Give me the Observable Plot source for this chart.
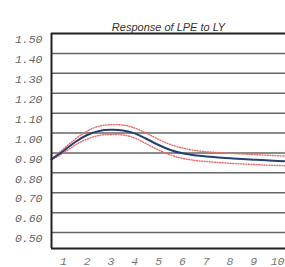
<!DOCTYPE html>
<html><head><meta charset="utf-8">
<script src="https://cdn.jsdelivr.net/npm/d3@7"></script>
<script src="https://cdn.jsdelivr.net/npm/@observablehq/plot@0.6"></script>
<style>body{margin:0;background:#fff;} svg{display:block;}</style>
</head><body><div id="chart"></div>
<script>
const title = "Response of LPE to LY";
const periods = [0.5,1,1.5,2,2.5,3,3.5,4,4.5,5,5.5,6,6.5,7,7.5,8,8.5,9,9.5,10,10.5];
const response = [0.868,0.91,0.955,0.99,1.01,1.016,1.013,0.998,0.97,0.94,0.915,0.898,0.888,0.882,0.877,0.873,0.869,0.866,0.863,0.86,0.858];
const upperBand = [0.87,0.92,0.97,1.01,1.035,1.042,1.04,1.025,0.998,0.968,0.942,0.925,0.913,0.906,0.902,0.898,0.895,0.892,0.889,0.886,0.884];
const lowerBand = [0.866,0.9,0.94,0.97,0.988,0.993,0.99,0.975,0.945,0.915,0.89,0.873,0.863,0.857,0.852,0.848,0.845,0.842,0.839,0.837,0.835];
const xTicks = [1,2,3,4,5,6,7,8,9,10];
const yTicks = [0.5,0.6,0.7,0.8,0.9,1.0,1.1,1.2,1.3,1.4,1.5];

const rows = periods.map((p,i)=>({p, r:response[i], u:upperBand[i], l:lowerBand[i]}));

const chart = Plot.plot({
  width: 285, height: 267,
  marginLeft: 51, marginTop: 33, marginBottom: 19, marginRight: 0,
  style: {background: "#fff", overflow: "hidden"},
  x: {domain: [0.5, 10.5], range: [51, 289], axis: null},
  y: {domain: [0.42, 1.5], axis: null},
  marks: [
    Plot.ruleY(yTicks.slice(0,-1), {stroke: "#666", strokeWidth: 1.5}),
    Plot.line(rows, {x: "p", y: "u", stroke: "#ee6a6a", strokeWidth: 1.4, strokeDasharray: "1,1.6", curve: "natural"}),
    Plot.line(rows, {x: "p", y: "l", stroke: "#ee6a6a", strokeWidth: 1.4, strokeDasharray: "1,1.6", curve: "natural"}),
    Plot.line(rows, {x: "p", y: "r", stroke: "#23406f", strokeWidth: 2, curve: "natural"}),
    Plot.ruleY([1.5], {stroke: "#222", strokeWidth: 2}),
    Plot.ruleY([0.42], {stroke: "#222", strokeWidth: 2}),
    Plot.ruleX([0.5], {stroke: "#222", strokeWidth: 2}),
    Plot.axisY(yTicks, {tickSize: 0, tickPadding: 9, dy: 6, tickFormat: d3.format(".2f"),
      fontFamily: "Liberation Mono", fontStyle: "italic", fontSize: 11.5, fill: "#666", label: null}),
    Plot.axisX(xTicks, {tickSize: 0, tickPadding: 8, fontFamily: "Liberation Mono", fontStyle: "italic",
      fontSize: 11.5, fill: "#777", label: null}),
    Plot.text([title], {frameAnchor: "top", dy: -10, fontFamily: "Liberation Sans", fontStyle: "italic",
      fontSize: 11, fill: "#333"})
  ]
});
document.getElementById("chart").append(chart);
</script></body></html>
